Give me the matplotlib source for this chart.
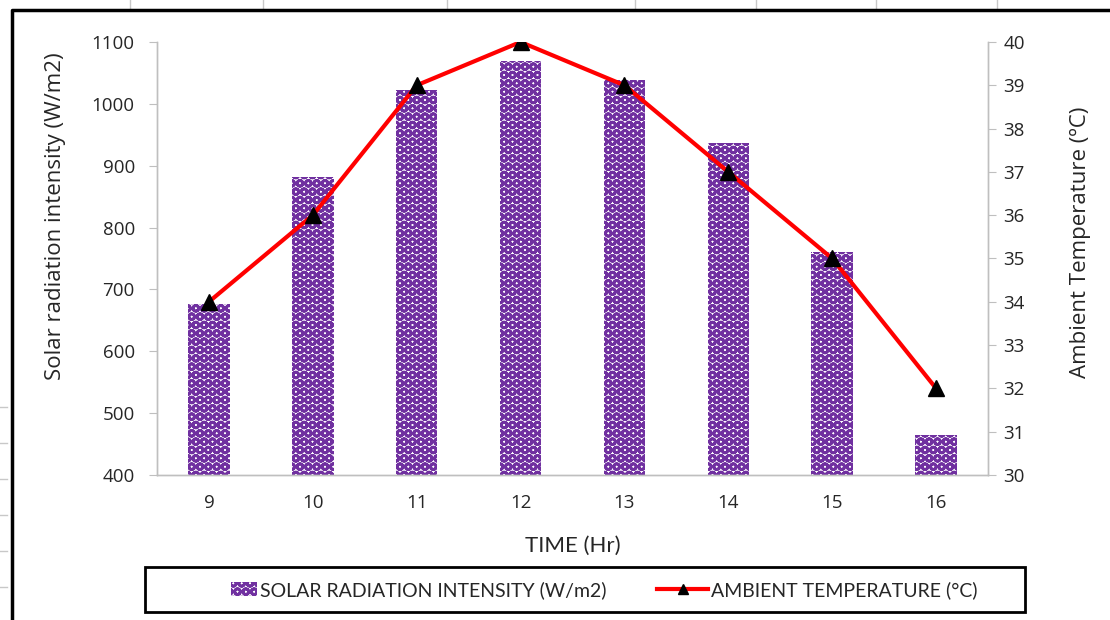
import matplotlib
matplotlib.use('Agg')
import matplotlib.pyplot as plt
from matplotlib.lines import Line2D
from matplotlib.patches import Rectangle
from matplotlib.legend_handler import HandlerPatch

hours = ['9', '10', '11', '12', '13', '14', '15', '16']
radiation = [676, 882, 1022, 1069, 1039, 937, 760, 465]
temperature = [34, 36, 39, 40, 39, 37, 35, 32]

plt.rcParams['font.family'] = ['Open Sans', 'DejaVu Sans']
plt.rcParams['hatch.linewidth'] = 2.0

purple = '#7030A0'
axis_gray = '#BFBFBF'
text_col = '#262626'
calibri_like = ['Lato', 'DejaVu Sans']

fig = plt.figure(figsize=(11.1, 6.2), dpi=100)
W, H = 1110, 620

# spreadsheet leftovers around the chart frame
for x in [130, 263, 447, 635, 756, 876, 997]:
    fig.add_artist(Line2D([x / W, x / W], [1, 1 - 10 / H], color='#C8C8C8', lw=1))
for y in [407, 443, 479, 515, 551, 587]:
    fig.add_artist(Line2D([0, 7 / W], [1 - y / H, 1 - y / H], color='#C8C8C8', lw=1))
fig.add_artist(Line2D([12 / W, 12 / W, 1], [0, 1 - 10 / H, 1 - 10 / H], color='black', lw=2.5))

ax = fig.add_axes([157 / W, 1 - 475 / H, 831 / W, 433 / H])
x = list(range(len(hours)))
bars = ax.bar(x, radiation, width=0.4, bottom=0, color='white', edgecolor=purple,
              hatch='OO', linewidth=0, zorder=2)
ax.set_xlim(-0.5, len(hours) - 0.5)
ax.set_ylim(400, 1100)
ax.set_yticks(range(400, 1101, 100))
ax.set_xticks(x)
ax.set_xticklabels(hours)

ax2 = ax.twinx()
line, = ax2.plot(x, temperature, color='#FF0000', lw=3, marker='^', markersize=11,
                 markerfacecolor='black', markeredgecolor='black', zorder=3)
ax2.set_ylim(30, 40)
ax2.set_yticks(range(30, 41))

for a in (ax, ax2):
    a.spines['top'].set_visible(False)
    for s in ('left', 'right', 'bottom'):
        a.spines[s].set_color(axis_gray)
        a.spines[s].set_linewidth(1)
    a.tick_params(axis='y', colors=axis_gray, labelcolor=text_col, labelsize=13.5, length=6)
ax.tick_params(axis='y', pad=10)
ax2.tick_params(axis='y', pad=5)
ax.tick_params(axis='x', length=0, labelsize=13.5, labelcolor=text_col, pad=14)

ax.set_xlabel('TIME (Hr)', fontsize=16, color=text_col, labelpad=17, family=calibri_like)
ax.set_ylabel('Solar radiation intensity (W/m2)', fontsize=16, color=text_col)
ax.yaxis.set_label_coords(-91 / 831, (475 - 216) / 433)
ax2.set_ylabel('Ambient Temperature (ºC)', fontsize=16, color=text_col)
ax2.yaxis.set_label_coords(1 + 82 / 831, (475 - 242) / 433)

# legend box
fig.add_artist(Rectangle((145 / W, 1 - 612 / H), 880 / W, 45 / H, transform=fig.transFigure,
                         fill=False, edgecolor='black', lw=2))


def small_patch(legend, orig_handle, xdescent, ydescent, width, height, fontsize):
    return Rectangle((width * 0.5 - xdescent, -ydescent), width * 0.5, height)


fig.legend([bars[0], line], ['SOLAR RADIATION INTENSITY (W/m2)', 'AMBIENT TEMPERATURE (°C)'],
           loc='center', bbox_to_anchor=(592 / W, 1 - 590 / H), ncol=2, frameon=False,
           prop={'family': calibri_like, 'size': 14}, handlelength=2.6, handletextpad=0.18,
           columnspacing=2.6, markerscale=0.7, labelcolor=text_col,
           handler_map={Rectangle: HandlerPatch(patch_func=small_patch)})

plt.savefig('out.png', dpi=100)
